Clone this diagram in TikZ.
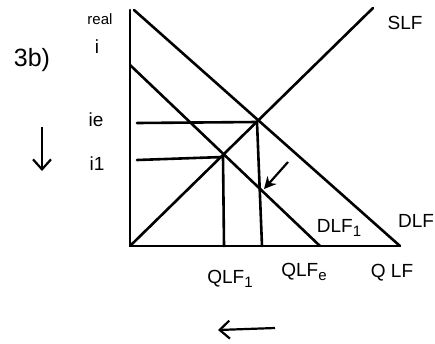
\documentclass[tikz,border=0pt]{standalone}
\usepackage{fontspec}
\setmainfont{Liberation Sans}
\usetikzlibrary{arrows.meta}
\newcommand{\lowsub}[1]{\raisebox{-0.45ex}{\fontsize{15}{15}\selectfont #1}}
\begin{document}
\begin{tikzpicture}[x=1pt,y=-1pt,
  ln/.style={line width=2.6pt,line cap=round},
  lbl/.style={font=\fontsize{19}{19}\selectfont,inner sep=0pt},
  arr/.style={line width=2.2pt,-{Stealth[length=12pt,width=12pt]}}]
\useasboundingbox (0,0) rectangle (435,343);
% coordinates
\coordinate (top) at (130,10);
\coordinate (O) at (130,246);
\coordinate (dtop) at (134,10);
\coordinate (dbot) at (400,246);
\coordinate (d1top) at (130,65);
\coordinate (d1bot) at (320,246);
\coordinate (stop) at (373,8);
\coordinate (E) at (257,122);
\coordinate (E1) at (223,157);
\coordinate (ie0) at (137,123);
\coordinate (i10) at (137,160);
\coordinate (Eb) at (262,246);
\coordinate (E1b) at (224,246);
% axes
\draw[ln] (top) -- (O) -- (dbot);
% curves
\draw[ln] (dtop) -- (dbot);
\draw[ln] (d1top) -- (d1bot);
\draw[ln] (O) -- (stop);
% guide lines
\draw[ln] (ie0) -- (E) -- (Eb);
\draw[ln] (i10) -- (E1) -- (E1b);
% shift arrows
\coordinate (a0) at (288,162);
\coordinate (a1) at (264,189);
\draw[arr] (a0) -- (a1);
\coordinate (b0) at (42,127);
\coordinate (b1) at (42,171);
\draw[arr,-{Straight Barb[length=10pt,width=18pt]}] (b0) -- (b1);
\coordinate (c0) at (275,328);
\coordinate (c1) at (218,330);
\draw[arr,-{Straight Barb[length=10pt,width=18pt]}] (c0) -- (c1);
% labels
\node[lbl,font=\fontsize{25}{25}\selectfont] (t3b) at (32,60) {3b)};
\node[lbl,font=\fontsize{15}{15}\selectfont] (real) at (100,19) {real};
\node[lbl] (i) at (97,47) {i};
\node[lbl] (ie) at (96,120) {ie};
\node[lbl] (i1) at (97,164) {i1};
\node[lbl] (slf) at (405,23) {SLF};
\node[lbl] (dlf) at (416,221) {DLF};
\node[lbl] (dlf1) at (339,228) {DLF\lowsub{1}};
\node[lbl] (q1) at (230,279) {QLF\lowsub{1}};
\node[lbl] (qe) at (304,272) {QLF\lowsub{e}};
\node[lbl] (q) at (392,273) {Q LF};
\end{tikzpicture}
\end{document}
